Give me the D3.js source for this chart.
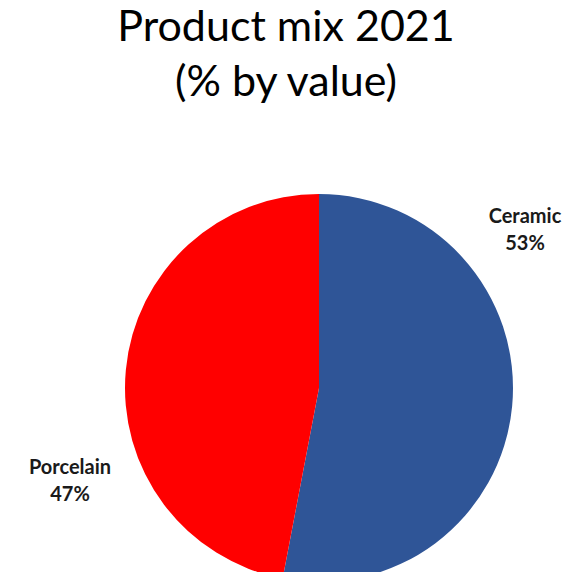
<!DOCTYPE html>
<html>
<head>
<meta charset="utf-8">
<script src="https://cdn.jsdelivr.net/npm/d3@7"></script>
<style>
  html, body { margin: 0; padding: 0; background: #fff; }
  svg { display: block; }
</style>
</head>
<body>
<svg id="chart" width="569" height="572"></svg>
<script>
// Product mix shares (% by value)
const categories = ["Ceramic", "Porcelain"];
const shares = [53, 47];
const colors = ["#2F5597", "#FF0000"];
const titleLines = ["Product mix 2021", "(% by value)"];

const svg = d3.select("#chart");
const cx = 319, cy = 388, radius = 194;
const font = "Lato, 'Open Sans', sans-serif";

// Title
svg.append("g").selectAll("text")
  .data(titleLines)
  .join("text")
  .attr("x", 286)
  .attr("y", (d, i) => 41 + i * 55)
  .attr("text-anchor", "middle")
  .attr("font-family", font)
  .attr("font-size", 43)
  .attr("fill", "#000")
  .text(d => d);

// Pie, starting at 12 o'clock and running clockwise
const pie = d3.pie().sort(null).value(d => d.value);
const arcs = pie(categories.map((c, i) => ({ name: c, value: shares[i] })));
const arc = d3.arc().innerRadius(0).outerRadius(radius);

const g = svg.append("g").attr("transform", `translate(${cx},${cy})`);
g.selectAll("path")
  .data(arcs)
  .join("path")
  .attr("d", arc)
  .attr("fill", (d, i) => colors[i]);

// Category labels outside the pie
const labelPos = [[525, 223], [70, 474]];
const labels = svg.append("g");
arcs.forEach((a, i) => {
  const t = labels.append("text")
    .attr("x", labelPos[i][0])
    .attr("y", labelPos[i][1])
    .attr("text-anchor", "middle")
    .attr("font-family", font)
    .attr("font-weight", "bold")
    .attr("font-size", 20)
    .attr("fill", "#1a1a1a");
  t.append("tspan").attr("x", labelPos[i][0]).text(a.data.name);
  t.append("tspan").attr("x", labelPos[i][0]).attr("dy", 27).text(a.data.value + "%");
});
</script>
</body>
</html>
